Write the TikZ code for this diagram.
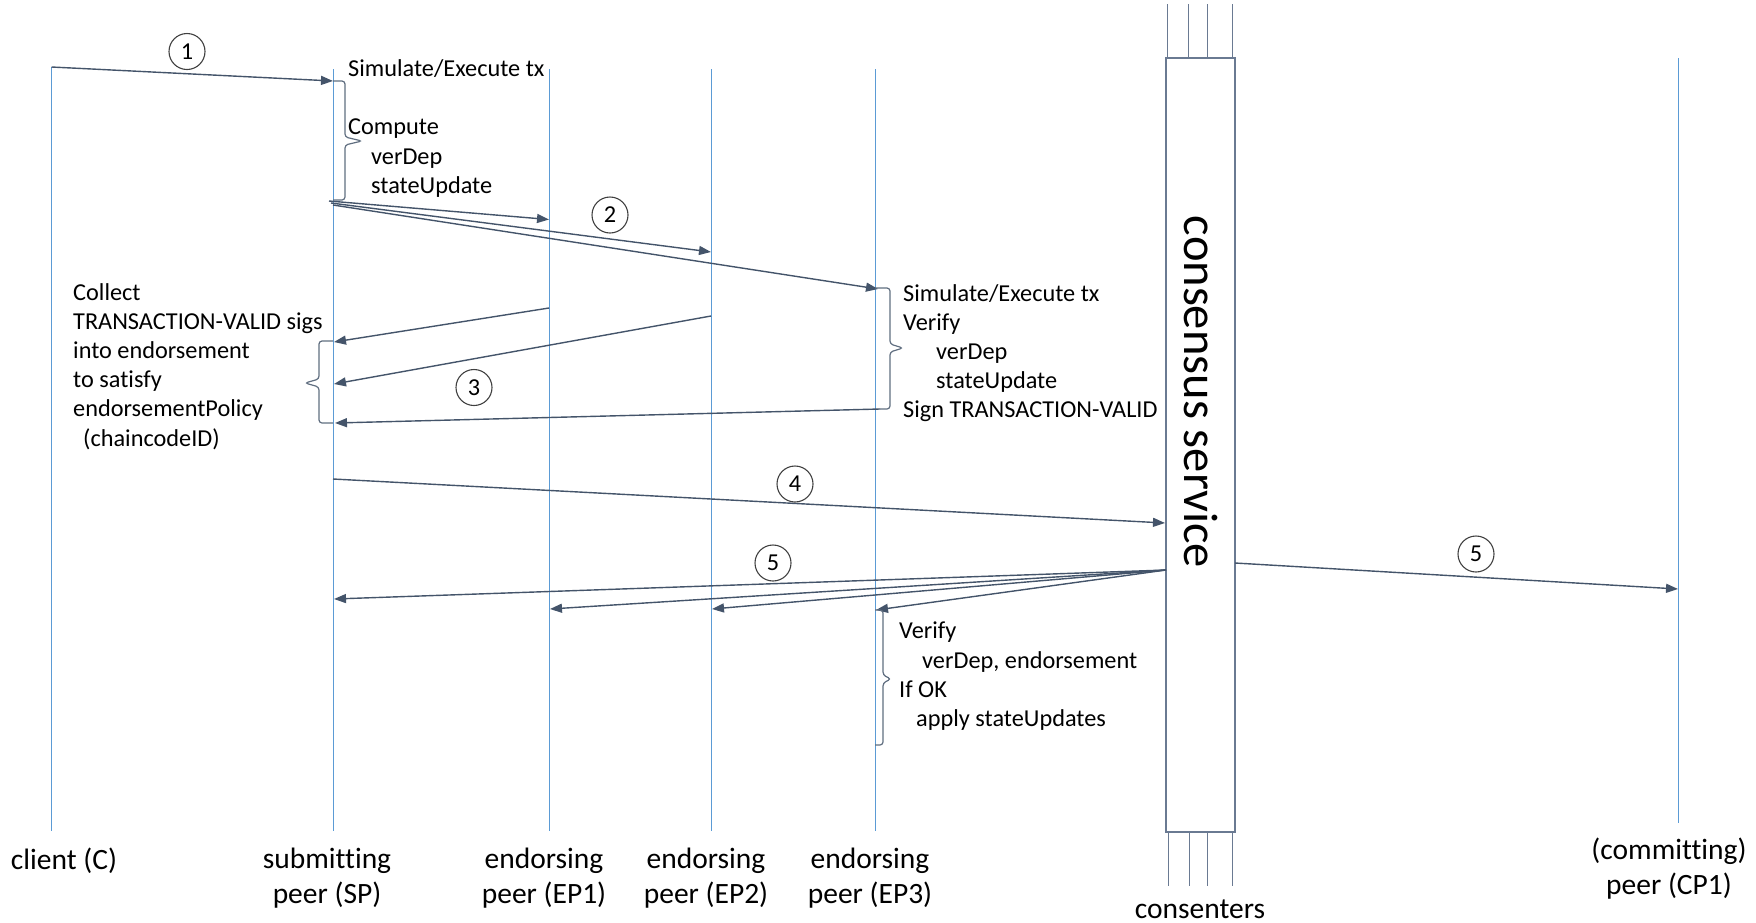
\documentclass[tikz,border=0pt]{standalone}
\usepackage{fontspec}
\setmainfont{Carlito}[Ligatures=NoCommon]
\usetikzlibrary{arrows.meta}
\definecolor{life}{HTML}{5B9BD5}
\definecolor{arr}{HTML}{44546A}
\definecolor{boxc}{HTML}{6A7A92}
\begin{document}
\begin{tikzpicture}[x=1pt,y=-1pt,
  lifeline/.style={draw=life,line width=0.9pt},
  msg/.style={draw=arr,line width=1.4pt,-{Triangle[length=12pt,width=9pt]}},
  bracket/.style={draw=arr!85,line width=1.2pt,rounded corners=3pt},
  numcircle/.style={circle,draw=black!75,line width=1.1pt,minimum size=36pt,inner sep=0pt,font=\fontsize{24.3}{29}\selectfont},
  txt/.style={align=left,inner sep=0pt,anchor=north west,font=\fontsize{24.3}{29.2}\selectfont},
  lbl/.style={align=center,inner sep=0pt,font=\fontsize{29.5}{35}\selectfont},
  boxline/.style={draw=boxc,line width=1.2pt},
]
\useasboundingbox (0,0) rectangle (1756,922);

% lifelines
\coordinate (C-top) at (51.5,67);   \coordinate (C-bot) at (51.5,831);
\coordinate (SP-top) at (333,69);   \coordinate (SP-bot) at (333,831);
\coordinate (E1-top) at (549,69);   \coordinate (E1-bot) at (549,831);
\coordinate (E2-top) at (711,69);   \coordinate (E2-bot) at (711,831);
\coordinate (E3-top) at (875,69);   \coordinate (E3-bot) at (875,831);
\coordinate (CP-top) at (1678,58);  \coordinate (CP-bot) at (1678,823);
\foreach \n in {C,SP,E1,E2,E3,CP} \draw[lifeline] (\n-top) -- (\n-bot);

% consensus service box
\node[draw=boxc,line width=1.2pt,minimum width=69pt,minimum height=774pt,inner sep=0pt] (cs) at (1200.5,445) {};
\node[rotate=-90,inner sep=0pt,font=\fontsize{48.5}{58}\selectfont] (cstext) at (1201,392) {consensus service};
\foreach \dx in {2,23,42,67} \draw[boxline] ([xshift=\dx pt]cs.north west) -- ++(0,-53);
\foreach \dx in {3,24,42,67} \draw[boxline] ([xshift=\dx pt]cs.south west) -- ++(0,53);

% step 1
\coordinate (sp-in1) at (333,81);
\draw[msg] (C-top) -- (sp-in1);

% SP brace (compute)
\coordinate (spb-top) at (333,81); \coordinate (spb-bot) at (333,200);
\draw[bracket] (spb-top) -- (345,81) -- (345,137) -- (362,141) -- (345,145) -- (345,200) -- (spb-bot);

% step 2
\coordinate (s2a) at (329,201); \coordinate (s2b) at (331,203); \coordinate (s2c) at (333,205);
\coordinate (e1-in2) at (549,219.5); \coordinate (e2-in2) at (711,252); \coordinate (e3-in2) at (878,289);
\draw[msg] (s2a) -- (e1-in2);
\draw[msg] (s2b) -- (e2-in2);
\draw[msg] (s2c) -- (e3-in2);

% EP3 brace
\coordinate (e3b-top) at (875,288); \coordinate (e3b-bot) at (880,409);
\draw[bracket] (e3b-top) -- (890,288) -- (890,344) -- (903,348) -- (890,352) -- (890,409) -- (e3b-bot);

% step 3
\coordinate (e1-out3) at (549,308); \coordinate (e2-out3) at (711,316);
\coordinate (sp-in3a) at (334,342); \coordinate (sp-in3b) at (334,384); \coordinate (sp-in3c) at (335,423);
\draw[msg] (e1-out3) -- (sp-in3a);
\draw[msg] (e2-out3) -- (sp-in3b);
\draw[msg] (e3b-bot) -- (sp-in3c);

% SP collect brace
\draw[bracket] (333,341) -- (319,341) -- (319,379) -- (305,383) -- (319,387) -- (319,423) -- (333,423);

% step 4
\coordinate (sp-out4) at (333,479); \coordinate (cs-in4) at (1165,523);
\draw[msg] (sp-out4) -- (cs-in4);

% step 5
\coordinate (cs-out5) at (1166,570); \coordinate (cs-out5r) at (1235,563);
\coordinate (sp-in5) at (334,599); \coordinate (e1-in5) at (550,609);
\coordinate (e2-in5) at (712,609); \coordinate (e3-in5) at (876,610);
\coordinate (cp-in5) at (1678,589);
\draw[msg] (cs-out5) -- (sp-in5);
\draw[msg] (cs-out5) -- (e1-in5);
\draw[msg] (cs-out5) -- (e2-in5);
\draw[msg] (cs-out5) -- (e3-in5);
\draw[msg] (cs-out5r) -- (cp-in5);

% EP3 lower brace
\draw[bracket] (875,610) -- (883,610) -- (883,675) -- (891,679) -- (883,683) -- (883,745) -- (875,745);

% step numbers
\node[numcircle] (n1) at (187,51.5) {1};
\node[numcircle] (n2) at (610,215) {2};
\node[numcircle] (n3) at (474,387.5) {3};
\node[numcircle] (n4) at (795,484) {4};
\node[numcircle] (n5a) at (773,563) {5};
\node[numcircle] (n5b) at (1476,554) {5};

% texts
\node[txt] (t-sim) at (348,59) {Simulate/Execute tx};
\node[txt] (t-comp) at (348,119) {Compute\\\hspace*{23pt}verDep\\\hspace*{23pt}stateUpdate};
\node[txt] (t-coll) at (73,283) {Collect\\TRANSACTION-VALID sigs\\into endorsement\\to satisfy\\endorsementPolicy\\\hspace*{10pt}(chaincodeID)};
\node[txt] (t-e3) at (903,284) {Simulate/Execute tx\\Verify\\\hspace*{33pt}verDep\\\hspace*{33pt}stateUpdate\\Sign TRANSACTION-VALID};
\node[txt] (t-ver) at (899,622) {Verify\\\hspace*{23pt}verDep, endorsement\\If OK\\\hspace*{17pt}apply stateUpdates};

% bottom labels
\node[lbl] (l-c) at (64,861) {client (C)};
\node[lbl] (l-sp) at (327,878.5) {submitting\\peer (SP)};
\node[lbl] (l-e1) at (544,878.5) {endorsing\\peer (EP1)};
\node[lbl] (l-e2) at (706,878.5) {endorsing\\peer (EP2)};
\node[lbl] (l-e3) at (870,878.5) {endorsing\\peer (EP3)};
\node[lbl,anchor=base] (l-cs) at (1200,918) {consenters};
\node[lbl] (l-cp) at (1669,869) {(committing)\\peer (CP1)};
\end{tikzpicture}
\end{document}
